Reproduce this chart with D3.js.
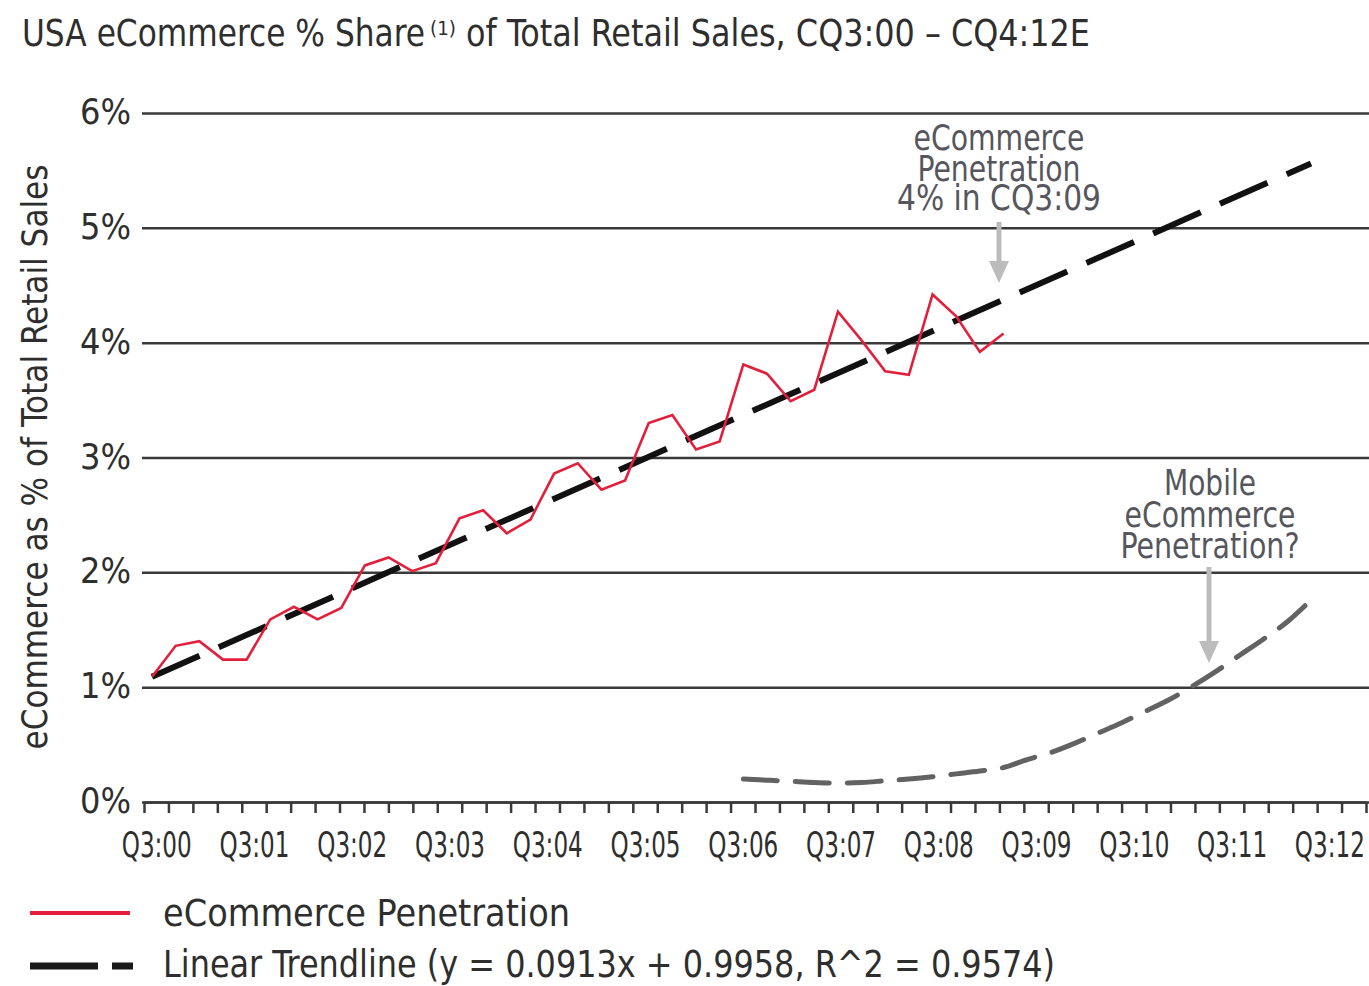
<!DOCTYPE html>
<html>
<head>
<meta charset="utf-8">
<script src="https://cdn.jsdelivr.net/npm/d3@7"></script>
<style>
  body { margin: 0; background: #fff; }
  text { font-family: "DejaVu Sans Condensed", "Liberation Sans Narrow", Roboto, sans-serif; fill: #2e2e2e; }
</style>
</head>
<body>
<svg id="chart" width="1369" height="986"></svg>
<script>
// quarters on the category axis, CQ3:00 - CQ4:12
const quarters = [
  "Q3:00", "Q4:00",
  "Q1:01", "Q2:01", "Q3:01", "Q4:01", "Q1:02", "Q2:02", "Q3:02", "Q4:02",
  "Q1:03", "Q2:03", "Q3:03", "Q4:03", "Q1:04", "Q2:04", "Q3:04", "Q4:04",
  "Q1:05", "Q2:05", "Q3:05", "Q4:05", "Q1:06", "Q2:06", "Q3:06", "Q4:06",
  "Q1:07", "Q2:07", "Q3:07", "Q4:07", "Q1:08", "Q2:08", "Q3:08", "Q4:08",
  "Q1:09", "Q2:09", "Q3:09", "Q4:09", "Q1:10", "Q2:10", "Q3:10", "Q4:10",
  "Q1:11", "Q2:11", "Q3:11", "Q4:11", "Q1:12", "Q2:12", "Q3:12", "Q4:12"
];
const xLabels = ["Q3:00", "Q3:01", "Q3:02", "Q3:03", "Q3:04", "Q3:05", "Q3:06",
  "Q3:07", "Q3:08", "Q3:09", "Q3:10", "Q3:11", "Q3:12"];
const yTicks = [0, 1, 2, 3, 4, 5, 6];

// eCommerce share, % (CQ3:00 .. CQ3:09)
const ecommerce = [1.09, 1.36, 1.40, 1.24, 1.24, 1.59, 1.70, 1.59, 1.69, 2.06,
  2.13, 2.01, 2.08, 2.47, 2.54, 2.34, 2.46, 2.86, 2.95, 2.72,
  2.80, 3.30, 3.37, 3.07, 3.14, 3.81, 3.73, 3.49, 3.59, 4.27,
  4.02, 3.75, 3.72, 4.42, 4.23, 3.92, 4.08];

// linear trendline end points (quarter index, %)
const trendQ = [0, 49];
const trendVals = [1.09, 5.56];

// mobile eCommerce guess curve, starts at quarter index 25
const mobileStart = 25;
const mobileVals = [0.20, 0.19, 0.18, 0.17, 0.165, 0.17, 0.185, 0.20, 0.22, 0.245,
  0.27, 0.30, 0.37, 0.43, 0.51, 0.60, 0.69, 0.79, 0.89, 1.01,
  1.14, 1.28, 1.42, 1.57, 1.76];

const svg = d3.select("#chart");

// fit a text to a width
function fit(sel, w) {
  sel.attr("textLength", w).attr("lengthAdjust", "spacingAndGlyphs");
  return sel;
}

// the data lines sit on a slightly tighter quarter spacing than the axis
const x = d3.scaleLinear().domain([0, 49]).range([152, 1311]);
const xAxisScale = d3.scaleLinear().domain([0, quarters.length]).range([144, 1366]);
const y = d3.scaleLinear().domain([0, 6]).range([802, 113]);

// gridlines + y labels
const yAxis = d3.axisLeft(y)
  .tickValues(yTicks)
  .tickSize(-(1369 - 142))
  .tickPadding(11)
  .tickFormat(d => d + "%");

const gy = svg.append("g")
  .attr("transform", "translate(142,0)")
  .call(yAxis);
gy.select(".domain").remove();
gy.selectAll(".tick line").attr("stroke", "#3a3a3a").attr("stroke-width", 2.5);
gy.selectAll(".tick text")
  .attr("font-size", 35)
  .attr("dy", "0.3em")
  .each(function () { fit(d3.select(this), 51); });

// x axis: ticks at every quarter boundary
const xAxis = d3.axisBottom(xAxisScale)
  .tickValues(d3.range(quarters.length + 1))
  .tickSize(11)
  .tickSizeOuter(0)
  .tickFormat("");

const gx = svg.append("g")
  .attr("transform", "translate(0,802)")
  .call(xAxis);
gx.select(".domain").attr("stroke", "#3a3a3a").attr("stroke-width", 2.5);
gx.selectAll(".tick line").attr("stroke", "#3a3a3a").attr("stroke-width", 2.5);

// x labels centred in each Q3 band
const labelAxis = d3.axisBottom(xAxisScale)
  .tickValues(xLabels.map(l => quarters.indexOf(l) + 0.5))
  .tickSize(0)
  .tickPadding(30)
  .tickFormat((d, i) => xLabels[i]);

const gl = svg.append("g")
  .attr("transform", "translate(0,802)")
  .call(labelAxis);
gl.select(".domain").remove();
gl.selectAll(".tick text")
  .attr("font-size", 35)
  .each(function () { fit(d3.select(this), 70); });

// trendline
const trendData = trendQ.map((q, i) => [q, trendVals[i]]);
svg.append("path")
  .datum(trendData)
  .attr("fill", "none")
  .attr("stroke", "#111")
  .attr("stroke-width", 6)
  .attr("stroke-dasharray", "52,21")
  .attr("d", d3.line().x(d => x(d[0])).y(d => y(d[1])));

// eCommerce penetration
svg.append("path")
  .datum(ecommerce)
  .attr("fill", "none")
  .attr("stroke", "#e3203c")
  .attr("stroke-width", 2.6)
  .attr("stroke-linejoin", "miter")
  .attr("d", d3.line().x((d, i) => x(i)).y(d => y(d)));

// mobile penetration guess
svg.append("path")
  .datum(mobileVals)
  .attr("fill", "none")
  .attr("stroke", "#626262")
  .attr("stroke-width", 5)
  .attr("stroke-linecap", "round")
  .attr("stroke-dasharray", "34,18")
  .attr("d", d3.line().curve(d3.curveMonotoneX)
    .x((d, i) => x(mobileStart + i)).y(d => y(d)));

// annotations
function arrow(cx, y0, y1) {
  svg.append("line")
    .attr("x1", cx).attr("x2", cx)
    .attr("y1", y0).attr("y2", y1 - 18)
    .attr("stroke", "#bcbcbc").attr("stroke-width", 5);
  svg.append("path")
    .attr("d", `M${cx - 10},${y1 - 22}L${cx + 10},${y1 - 22}L${cx},${y1}Z`)
    .attr("fill", "#bcbcbc");
}

const note1 = [["eCommerce", 150, 171], ["Penetration", 181, 163], ["4% in CQ3:09", 210, 204]];
note1.forEach(([t, by, w]) => {
  fit(svg.append("text")
    .attr("x", 999).attr("y", by)
    .attr("text-anchor", "middle")
    .attr("font-size", 35)
    .style("fill", "#56565e")
    .text(t), w);
});
arrow(999, 222, 283);

const note2 = [["Mobile", 495, 92], ["eCommerce", 527, 171], ["Penetration?", 558, 179]];
note2.forEach(([t, by, w]) => {
  fit(svg.append("text")
    .attr("x", 1210).attr("y", by)
    .attr("text-anchor", "middle")
    .attr("font-size", 35)
    .style("fill", "#56565e")
    .text(t), w);
});
arrow(1209, 567, 663);

// title
fit(svg.append("text").attr("x", 22).attr("y", 46).attr("font-size", 37)
  .text("USA eCommerce % Share"), 403);
fit(svg.append("text").attr("x", 430).attr("y", 35).attr("font-size", 20)
  .text("(1)"), 26);
fit(svg.append("text").attr("x", 466).attr("y", 46).attr("font-size", 37)
  .text("of Total Retail Sales, CQ3:00 \u2013 CQ4:12E"), 624);

// y axis title
fit(svg.append("text")
  .attr("transform", "translate(47,457) rotate(-90)")
  .attr("text-anchor", "middle")
  .attr("font-size", 35)
  .text("eCommerce as % of Total Retail Sales"), 585);

// legend
svg.append("line")
  .attr("x1", 30).attr("x2", 130).attr("y1", 913).attr("y2", 913)
  .attr("stroke", "#e3203c").attr("stroke-width", 4);
fit(svg.append("text").attr("x", 163).attr("y", 926).attr("font-size", 37)
  .text("eCommerce Penetration"), 407);

svg.append("line")
  .attr("x1", 30).attr("x2", 133).attr("y1", 966).attr("y2", 966)
  .attr("stroke", "#1a1a1a").attr("stroke-width", 7)
  .attr("stroke-dasharray", "68,14");
fit(svg.append("text").attr("x", 163).attr("y", 977).attr("font-size", 37)
  .text("Linear Trendline (y = 0.0913x + 0.9958, R^2 = 0.9574)"), 892);
</script>
</body>
</html>
